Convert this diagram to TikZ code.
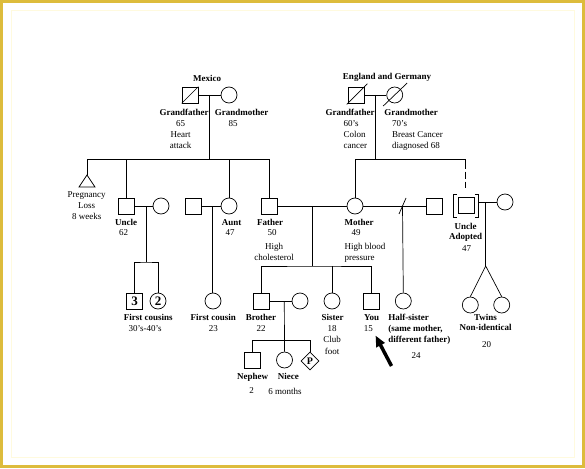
\documentclass[tikz,border=0pt]{standalone}
\usepackage{fontspec}
\setmainfont{Liberation Serif}
\usetikzlibrary{shapes.geometric,arrows.meta}
\definecolor{framegold}{RGB}{221,188,60}
\definecolor{framepale}{RGB}{255,250,222}
\begin{document}
\begin{tikzpicture}[x=1pt,y=-1pt,line width=0.7pt,
  male/.style={draw,rectangle,minimum size=16pt,inner sep=0pt},
  female/.style={draw,circle,minimum size=16pt,inner sep=0pt},
  txt/.style={inner sep=0pt,font=\fontsize{9}{11}\selectfont,align=center,anchor=north},
  btxt/.style={inner sep=0pt,font=\fontsize{9}{11}\selectfont\bfseries,align=center,anchor=north},
  ltxt/.style={inner sep=0pt,font=\fontsize{9}{11}\selectfont,align=left,anchor=north west},
  lbtxt/.style={inner sep=0pt,font=\fontsize{9}{11}\selectfont\bfseries,align=left,anchor=north west},
  bignum/.style={font=\fontsize{13}{13}\selectfont\bfseries}]
\useasboundingbox (0,0) rectangle (585,468);
\fill[white] (0,0) rectangle (585,468);
\draw[framepale,line width=1pt] (11,11) rectangle (574,457);
\draw[framegold,line width=3pt] (1.5,1.5) rectangle (583.5,466.5);

% ---------- Mexico grandparents ----------
\node[male] (gf1) at (190,95) {};
\draw (gf1.south west) -- (gf1.north east);
\node[female] (gm1) at (229,95) {};
\draw (gf1.east) -- (gm1.west);
\coordinate (m1) at (209,95);
\coordinate (s1) at (209,159);
\draw (m1) -- (s1);
\node[btxt] (mex) at (207,74.5) {Mexico};
\node[btxt] (gf1l) at (184,108.8) {Grandfather};
\node[txt] (gf1d) at (180.7,119.8) {65\\Heart\\attack};
\node[btxt] (gm1l) at (241.5,108.8) {Grandmother};
\node[txt] (gm1d) at (233,119.8) {85};

% ---------- England grandparents ----------
\node[male] (gf2) at (356,95) {};
\draw ([shift={(-1,1)}]gf2.south west) -- ([shift={(3,-3)}]gf2.north east);
\node[female] (gm2) at (394.7,95) {};
\draw ([shift={(-11.5,11)}]gm2.center) -- ([shift={(12.5,-12)}]gm2.center);
\draw (gf2.east) -- (gm2.west);
\coordinate (m4) at (375,95);
\coordinate (s4) at (375,159);
\draw (m4) -- (s4);
\node[btxt] (eng) at (387,72.5) {England and Germany};
\node[btxt] (gf2l) at (350,108.8) {Grandfather};
\node[ltxt] (gf2d) at (343.3,119.8) {60's\\Colon\\cancer};
\node[btxt] (gm2l) at (411,108.8) {Grandmother};
\node[ltxt] (gm2d) at (391.7,119.8) {70's\\Breast Cancer\\diagnosed 68};

% ---------- Father's siblings ----------
\coordinate (pl) at (87,175);
\draw (pl) -- ++(-8,12) -- ++(16,0) -- cycle;
\draw (pl) |- (s1);
\node[txt,font=\fontsize{9}{10.8}\selectfont] (pll) at (86.7,191.5) {Pregnancy\\Loss\\8 weeks};

\node[male] (un) at (126,206) {};
\draw (un.north) -- (un.north |- s1);
\node[female] (unw) at (161,206) {};
\draw (un.east) -- (unw.west);
\node[btxt] (unl) at (126,219.2) {Uncle};
\node[txt] (und) at (123.7,229.5) {62};
\coordinate (m2) at (146,206);
\coordinate (s2) at (146,262);
\draw (m2) -- (s2);
\node[male,bignum] (c3) at (134.7,301) {3};
\node[female,bignum] (c2) at (158,301) {2};
\draw (c3.north) |- (s2) -| (c2.north);
\node[btxt] (fcsl) at (148.3,313.8) {First cousins};
\node[txt] (fcsd) at (145,324.8) {30's-40's};

\node[male] (aum) at (193,206) {};
\node[female] (au) at (229,206) {};
\draw (au.north) -- (au.north |- s1);
\draw (aum.east) -- (au.west);
\node[btxt] (aul) at (231.7,219.2) {Aunt};
\node[txt] (aud) at (230,229.5) {47};
\coordinate (m3) at (212.7,206);
\node[female] (fc) at (213,301) {};
\draw (m3) -- (m3 |- fc.north);
\node[btxt] (fcl) at (213.3,313.8) {First cousin};
\node[txt] (fcd) at (213.3,324.8) {23};

% ---------- Parents ----------
\node[male] (fa) at (269,206) {};
\draw (fa.north) |- (s1);
\node[female] (mo) at (355,206) {};
\draw (mo.north) |- (s4);
\draw (fa.east) -- (mo.west);
\node[btxt] (fal) at (270,219.2) {Father};
\node[txt] (fad) at (272,229.5) {50};
\node[txt,font=\fontsize{9}{11.7}\selectfont] (fah) at (274,242.5) {High\\cholesterol};
\node[btxt] (mol) at (359,219.2) {Mother};
\node[txt] (mod) at (356,229.5) {49};
\node[ltxt,font=\fontsize{9}{11.7}\selectfont] (moh) at (344.3,242.5) {High blood\\pressure};

% ---------- Mother's other partner ----------
\node[male] (hf) at (434.7,206) {};
\draw (mo.east) -- (hf.west);
\coordinate (dv) at (402.5,206);
\draw ([shift={(-3.5,8)}]dv) -- ([shift={(3.5,-8)}]dv);
\node[female] (hs) at (403.3,301) {};
\draw (dv) -- (hs.north);
\node[lbtxt,font=\fontsize{9}{10.85}\selectfont\bfseries] (hsl) at (388,313.8) {Half-sister\\(same mother,\\different father)};
\node[txt] (hsd) at (416,352.5) {24};

% ---------- Adopted uncle ----------
\coordinate (s4r) at (465.7,159);
\coordinate (uat) at (465.7,194);
\draw (s4) -- (s4r);
\draw[dash pattern=on 10pt off 2.5pt on 7pt off 3pt on 6pt off 30pt] (s4r) -- (uat);
\node[male] (ua) at (466,205.5) {};
\draw ([shift={(-9,-11.5)}]ua.center) -- ++(-3.5,0) -- ++(0,23) -- ++(3.5,0);
\draw ([shift={(9,-11.5)}]ua.center) -- ++(3.5,0) -- ++(0,23) -- ++(-3.5,0);
\coordinate (uae) at (478.5,202);
\node[female] (uaw) at (505,202) {};
\draw (uae) -- (uaw.west);
\node[btxt,font=\fontsize{9}{10}\selectfont\bfseries] (ual) at (465.5,223) {Uncle\\Adopted};
\node[txt] (uad) at (466.7,245.5) {47};
\coordinate (m5) at (485.7,202);
\coordinate (s5) at (485.7,266);
\draw (m5) -- (s5);
\node[female] (tw1) at (470.3,305) {};
\node[female] (tw2) at (501.7,305) {};
\draw (tw1.north) -- (s5) -- (tw2.north);
\node[btxt,font=\fontsize{9}{10}\selectfont\bfseries] (twl) at (485.5,313.8) {Twins\\Non-identical};
\node[txt] (twd) at (486.7,340.8) {20};

% ---------- Siblings ----------
\coordinate (m6) at (312,206);
\coordinate (s6) at (312,266);
\draw (m6) -- (s6);
\node[male] (br) at (261,301) {};
\node[female] (si) at (332,301) {};
\node[male] (yo) at (371.7,301) {};
\draw (br.north) |- (s6) -| (yo.north);
\draw (si.north) -- (si.north |- s6);
\node[btxt] (brl) at (261,313.8) {Brother};
\node[txt] (brd) at (261,324.8) {22};
\node[btxt] (sil) at (332.7,313.5) {Sister};
\node[txt,font=\fontsize{9}{11.7}\selectfont] (sid) at (332,324.8) {18\\Club\\foot};
\node[btxt] (yol) at (371.7,313.8) {You};
\node[txt] (yod) at (368.3,324.8) {15};

% ---------- Brother's family ----------
\node[female] (brw) at (300,301) {};
\draw (br.east) -- (brw.west);
\coordinate (m7) at (284.3,301);
\coordinate (s7) at (284.3,340.7);
\node[male] (ne) at (252.7,360) {};
\node[female] (ni) at (284.5,360) {};
\node[diamond,draw,minimum width=18pt,minimum height=18pt,inner sep=0pt,font=\fontsize{10}{10}\selectfont\bfseries] (pr) at (310,361) {P};
\draw (m7) -- (ni.north);
\draw (ne.north) |- (s7) -| (pr.north);
\node[btxt] (nel) at (252.7,372.5) {Nephew};
\node[txt] (ned) at (251.7,387.5) {2};
\node[btxt] (nil) at (288.3,372.5) {Niece};
\node[txt] (nid) at (285,387.5) {6 months};

% ---------- Arrow ----------
\coordinate (arT) at (391.5,366);
\coordinate (arH) at (375.5,335.5);
\draw[line width=3.5pt,-{Triangle[length=11pt,width=9pt]}] (arT) -- (arH);
\end{tikzpicture}
\end{document}
